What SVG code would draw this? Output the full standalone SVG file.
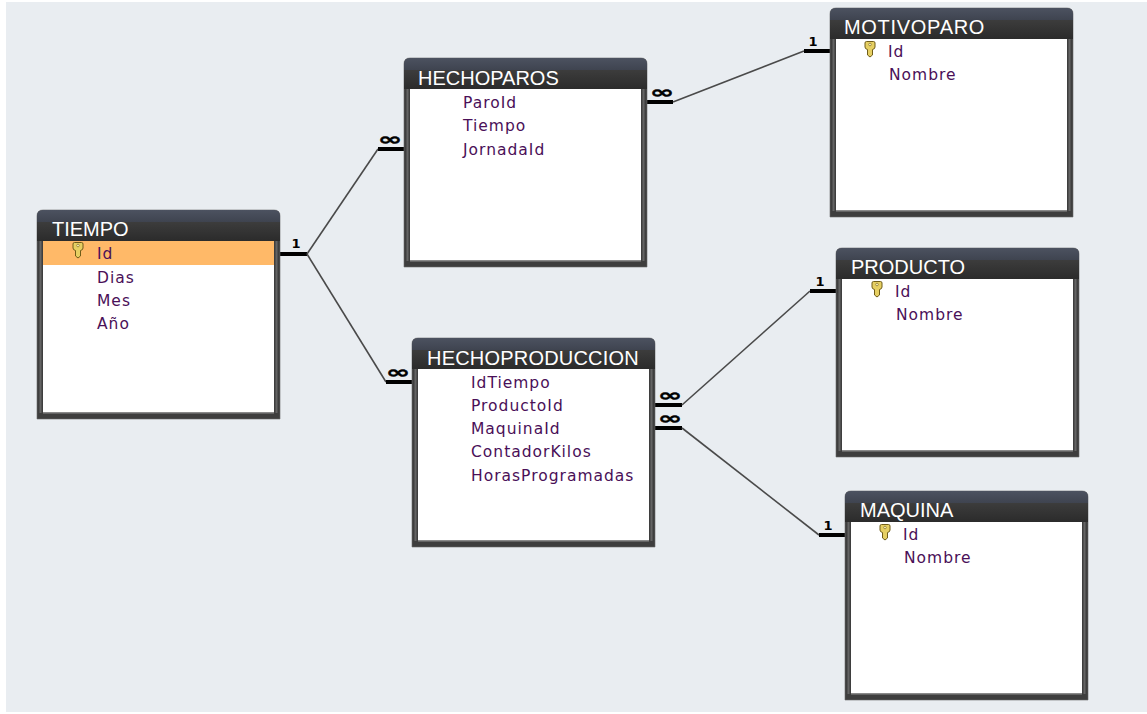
<svg xmlns="http://www.w3.org/2000/svg" xmlns:xlink="http://www.w3.org/1999/xlink" width="1147" height="714" viewBox="0 0 1147 714">
<style>
.t{font-family:"Liberation Sans",Arial,sans-serif;font-size:20px;fill:#fff}
.f{font-family:"DejaVu Sans",sans-serif;font-size:15.5px;letter-spacing:1px;fill:#4a1058}
.c{font-family:"DejaVu Sans",sans-serif;font-size:13px;font-weight:bold;fill:#000;text-anchor:middle}
.i{font-family:"DejaVu Sans",sans-serif;font-size:21px;font-weight:bold;fill:#000;stroke:#000;stroke-width:.5;text-anchor:middle}
.l{fill:none;stroke:#4a4a4a;stroke-width:1.6}
.b{fill:none;stroke:#000;stroke-width:4}
</style>
<defs>
<linearGradient id="hd" x1="0" y1="0" x2="0" y2="1"><stop offset="0" stop-color="#4c5260"/><stop offset=".38" stop-color="#3f4450"/><stop offset=".4" stop-color="#3c3c3c"/><stop offset="1" stop-color="#2b2b2b"/></linearGradient>
<g id="frame">
<path d="M0 6Q0 0 6 0H237Q243 0 243 6V209H0Z" fill="#3e3e3e" stroke="#6a6a6a" stroke-width=".6"/>
<path d="M0 6Q0 0 6 0H237Q243 0 243 6V31H0Z" fill="url(#hd)"/>
<rect x="2.500" y="31" width="2" height="172" fill="#646464"/>
<rect x="238.500" y="31" width="2" height="172" fill="#646464"/>
<rect x="6" y="31" width="231" height="172" fill="#fff"/>
<rect x="6" y="202" width="231" height="1.500" fill="#8a8a8a"/>
</g>
<g id="key">
<path d="M-5 -6Q-5 -7.500 -3.500 -7.500H3.500Q5 -7.500 5 -6V-2Q5 0 2.500 0.500V6L0 8L-2.500 6V0.500Q-5 0 -5 -2Z" fill="#e6cf62" stroke="#6f5c18" stroke-width="1"/>
<circle cx="0" cy="-4.500" r="1.300" fill="#fff6c0" stroke="#6f5c18" stroke-width=".6"/>
</g>
</defs>
<rect width="1147" height="714" fill="#fff"/>
<rect x="6" y="2" width="1141" height="710" fill="#e9edf1"/>
<g id="connectors">
<path class="b" d="M280 254H307"/><path class="l" d="M307 254L378 149"/><path class="l" d="M307 254L386 382"/>
<path class="b" d="M378 149H404"/><path class="b" d="M386 382H412"/>
<path class="b" d="M647 102H673"/><path class="l" d="M673 102L804 51"/><path class="b" d="M804 51H830"/>
<path class="b" d="M655 405H682"/><path class="l" d="M682 405L810 291"/><path class="b" d="M810 291H836"/>
<path class="b" d="M655 428H682"/><path class="l" d="M682 428L819 535"/><path class="b" d="M819 535H845"/>
<text class="c" x="296" y="248">1</text>
<text class="i" transform="translate(390,145) scale(1.4,.8)">∞</text>
<text class="i" transform="translate(398,378) scale(1.4,.8)">∞</text>
<text class="i" transform="translate(662,98) scale(1.4,.8)">∞</text>
<text class="c" x="813" y="46">1</text>
<text class="i" transform="translate(670,401) scale(1.4,.8)">∞</text>
<text class="i" transform="translate(670,424) scale(1.4,.8)">∞</text>
<text class="c" x="820" y="286">1</text><text class="c" x="828" y="530">1</text>
</g>
<g id="tiempo">
<use xlink:href="#frame" x="37" y="210"/>
<rect x="43" y="241" width="231" height="24" fill="#ffb968"/>
<text class="t" x="52" y="236">TIEMPO</text>
<use xlink:href="#key" x="78" y="250"/>
<text class="f" x="97" y="259">Id</text><text class="f" x="97" y="282.700">Dias</text><text class="f" x="97" y="305.700">Mes</text><text class="f" x="97" y="328.700">Año</text>
</g>
<g id="hechoparos">
<use xlink:href="#frame" x="404" y="58"/>
<text class="t" x="418" y="84.700">HECHOPAROS</text>
<text class="f" x="463" y="107.700">ParoId</text><text class="f" x="463" y="130.700">Tiempo</text><text class="f" x="463" y="154.700">JornadaId</text>
</g>
<g id="hechoproduccion">
<use xlink:href="#frame" x="412" y="338"/>
<text class="t" x="427" y="364.700" style="letter-spacing:.2px">HECHOPRODUCCION</text>
<text class="f" x="471" y="387.700">IdTiempo</text><text class="f" x="471" y="410.700">ProductoId</text><text class="f" x="471" y="433.700">MaquinaId</text><text class="f" x="471" y="456.700">ContadorKilos</text><text class="f" x="471" y="480.700">HorasProgramadas</text>
</g>
<g id="motivoparo">
<use xlink:href="#frame" x="830" y="8"/>
<text class="t" x="844" y="33.700" style="letter-spacing:.7px">MOTIVOPARO</text>
<use xlink:href="#key" x="870" y="49"/>
<text class="f" x="888" y="56.700">Id</text><text class="f" x="889" y="79.700">Nombre</text>
</g>
<g id="producto">
<use xlink:href="#frame" x="836" y="248"/>
<text class="t" x="851" y="273.700">PRODUCTO</text>
<use xlink:href="#key" x="877" y="289"/>
<text class="f" x="895" y="296.700">Id</text><text class="f" x="896" y="319.700">Nombre</text>
</g>
<g id="maquina">
<use xlink:href="#frame" x="845" y="491"/>
<text class="t" x="860" y="516.700">MAQUINA</text>
<use xlink:href="#key" x="885" y="532"/>
<text class="f" x="903" y="539.700">Id</text><text class="f" x="904" y="562.700">Nombre</text>
</g>
</svg>
